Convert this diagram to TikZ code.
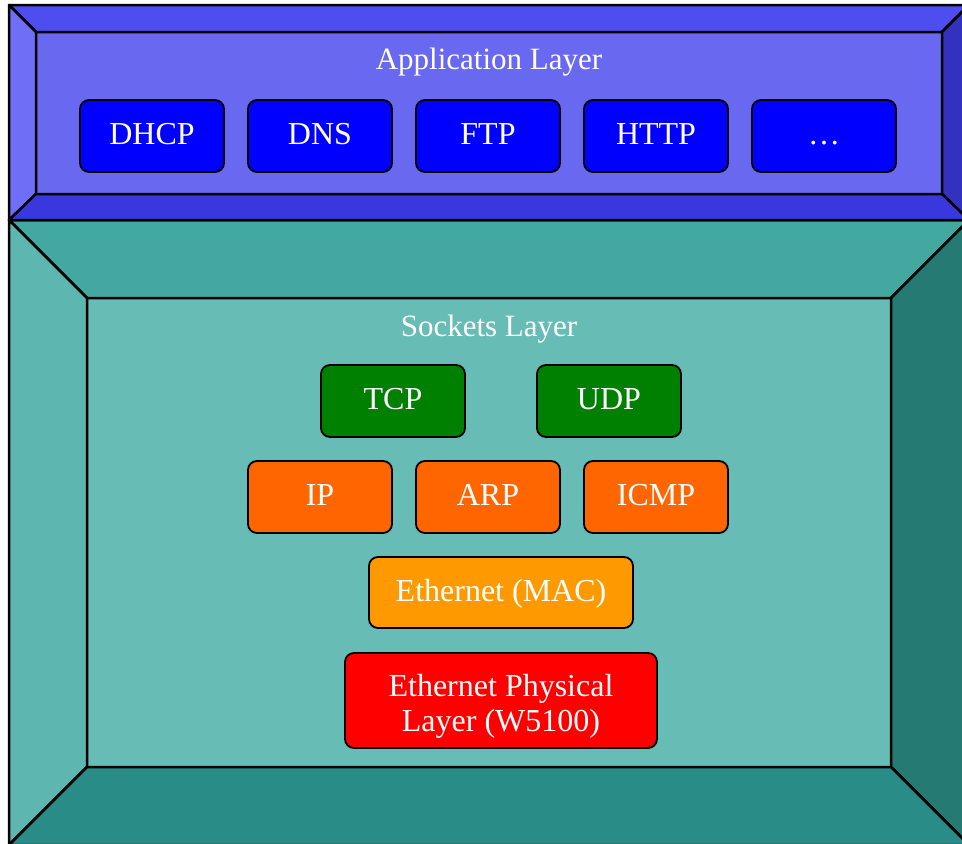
\documentclass[tikz,border=0pt]{standalone}
\usepackage{fontspec}
\setmainfont{Liberation Serif}
\usepackage{xcolor}
\usetikzlibrary{positioning}

\definecolor{appface}{RGB}{104,104,240}
\definecolor{apptop}{RGB}{78,78,240}
\definecolor{appleft}{RGB}{110,110,246}
\definecolor{appbottom}{RGB}{56,56,222}
\definecolor{appright}{RGB}{50,50,190}
\definecolor{sockface}{RGB}{104,188,182}
\definecolor{socktop}{RGB}{66,168,160}
\definecolor{sockleft}{RGB}{94,182,176}
\definecolor{sockbottom}{RGB}{42,140,134}
\definecolor{sockright}{RGB}{38,122,116}
\definecolor{protoblue}{RGB}{0,0,255}
\definecolor{protogreen}{RGB}{0,128,0}
\definecolor{protoorange}{RGB}{255,102,0}
\definecolor{macorange}{RGB}{255,153,0}
\definecolor{phyred}{RGB}{255,0,0}

\begin{document}
\begin{tikzpicture}[x=1pt,y=-1pt,
    bevel/.style={draw=black,line width=2.5pt,line join=round},
    proto/.style={rectangle,draw=black,line width=1.8pt,rounded corners=9pt,text=white,inner sep=0pt,minimum width=144pt,minimum height=72pt,text height=22.5pt,text depth=5.5pt,font=\fontsize{32}{35}\selectfont,align=center},
    layertitle/.style={text=white,inner sep=0pt,font=\fontsize{31}{36}\selectfont}]
    \useasboundingbox (0,0) rectangle (962,844);
    \clip (0,0) rectangle (962,844);

    % Sockets layer frame
    \fill[sockface] (87,298) rectangle (891,767);
    \filldraw[bevel,fill=socktop] (9,220) -- (969,220) -- (891,298) -- (87,298) -- cycle;
    \filldraw[bevel,fill=sockleft] (9,220) -- (87,298) -- (87,767) -- (9,845) -- cycle;
    \filldraw[bevel,fill=sockright] (969,220) -- (969,845) -- (891,767) -- (891,298) -- cycle;
    \filldraw[bevel,fill=sockbottom] (9,845) -- (87,767) -- (891,767) -- (969,845) -- cycle;
    \draw[bevel] (87,298) rectangle (891,767);

    % Application layer frame
    \fill[appface] (36,32) rectangle (942,194);
    \filldraw[bevel,fill=apptop] (9,5) -- (969,5) -- (942,32) -- (36,32) -- cycle;
    \filldraw[bevel,fill=appleft] (9,5) -- (36,32) -- (36,194) -- (9,220) -- cycle;
    \filldraw[bevel,fill=appright] (969,5) -- (969,220) -- (942,194) -- (942,32) -- cycle;
    \filldraw[bevel,fill=appbottom] (9,220) -- (36,194) -- (942,194) -- (969,220) -- cycle;
    \draw[bevel] (36,32) rectangle (942,194);

    % Application protocols
    \node[layertitle] (apptitle) at (489,62) {Application Layer};
    \node[proto,fill=protoblue] (dhcp) at (152,136) {DHCP};
    \node[proto,fill=protoblue] (dns) at (320,136) {DNS};
    \node[proto,fill=protoblue] (ftp) at (488,136) {FTP};
    \node[proto,fill=protoblue] (http) at (656,136) {HTTP};
    \node[proto,fill=protoblue] (more) at (824,136) {…};

    % Sockets layer stack
    \node[layertitle] (socktitle) at (489,329) {Sockets Layer};
    \node[proto,fill=protogreen] (tcp) at (393,401) {TCP};
    \node[proto,fill=protogreen] (udp) at (609,401) {UDP};
    \node[proto,fill=protoorange] (ip) at (320,497) {IP};
    \node[proto,fill=protoorange] (arp) at (488,497) {ARP};
    \node[proto,fill=protoorange] (icmp) at (656,497) {ICMP};
    \node[proto,fill=macorange,minimum width=264pt,minimum height=71pt] (mac) at (501,592.5) {Ethernet (MAC)};
    \node[proto,fill=phyred,minimum width=312pt,minimum height=95pt,text height=,text depth=] (phy) at (501,700.5) {\rule{0pt}{34pt}Ethernet Physical\\Layer (W5100)};
\end{tikzpicture}
\end{document}
